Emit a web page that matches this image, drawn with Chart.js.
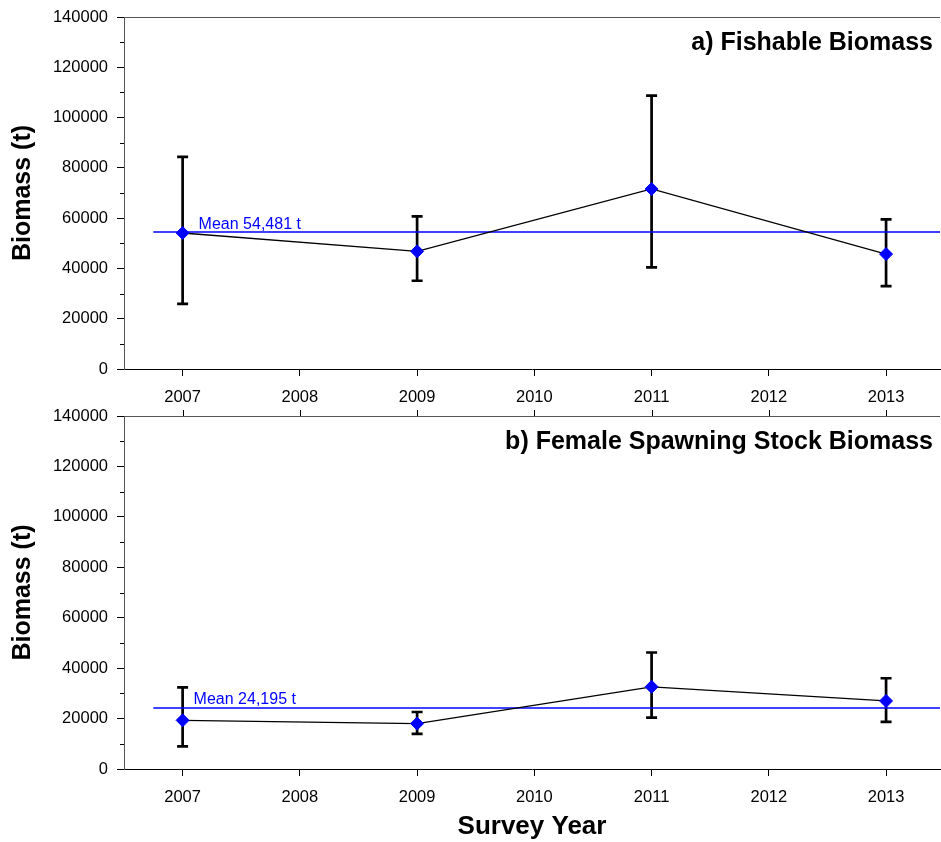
<!DOCTYPE html>
<html>
<head>
<meta charset="utf-8">
<script src="https://cdn.jsdelivr.net/npm/chart.js@4.4.1/dist/chart.umd.min.js"></script>
<style>
    body { margin: 0; background: #fff; }
    canvas { position: absolute; left: 0; }
    #fishableChart { top: 0; }
    #ssbChart { top: 400px; }
</style>
</head>
<body>
<canvas id="fishableChart" width="941" height="410"></canvas>
<canvas id="ssbChart" width="941" height="442"></canvas>
<script>
const surveyYears = [2007, 2009, 2011, 2013];
const yearTicks = [2007, 2008, 2009, 2010, 2011, 2012, 2013];

const fishable = [54100, 46800, 71600, 45700];
const fishableLow = [25900, 35100, 40400, 33000];
const fishableHigh = [84400, 60700, 108700, 59500];
const fishableMean = 54481;

const ssb = [19300, 18000, 32600, 27000];
const ssbLow = [9000, 13900, 20400, 18700];
const ssbHigh = [32400, 22600, 46200, 36000];
const ssbMean = 24195;

const FONT = "'Liberation Sans', Arial, sans-serif";
Chart.defaults.font.family = FONT;
Chart.defaults.color = '#000';

// error bars, minor ticks, mean label, panel title
const panelDecor = {
    id: 'panelDecor',
    beforeDatasetsDraw(chart, args, opts) {
        const { ctx, scales: { x, y } } = chart;
        ctx.save();
        ctx.strokeStyle = '#000';
        ctx.lineWidth = 2.7;
        opts.low.forEach((lo, i) => {
            const px = x.getPixelForValue(opts.years[i]);
            const top = y.getPixelForValue(opts.high[i]);
            const bot = y.getPixelForValue(lo);
            ctx.beginPath();
            ctx.moveTo(px, top);
            ctx.lineTo(px, bot);
            ctx.moveTo(px - 5.5, top);
            ctx.lineTo(px + 5.5, top);
            ctx.moveTo(px - 5.5, bot);
            ctx.lineTo(px + 5.5, bot);
            ctx.stroke();
        });
        ctx.restore();
    },
    afterDraw(chart, args, opts) {
        const { ctx, chartArea, scales: { x, y } } = chart;
        ctx.save();
        // minor y ticks
        ctx.strokeStyle = '#000';
        ctx.lineWidth = 1;
        for (let v = 10000; v < 140000; v += 20000) {
            const py = Math.round(y.getPixelForValue(v)) + 0.5;
            ctx.beginPath();
            ctx.moveTo(chartArea.left - 4, py);
            ctx.lineTo(chartArea.left, py);
            ctx.stroke();
        }
        // top frame
        ctx.strokeStyle = '#555';
        ctx.beginPath();
        ctx.moveTo(chartArea.left, chartArea.top + 0.5);
        ctx.lineTo(chartArea.right, chartArea.top + 0.5);
        ctx.stroke();
        if (opts.topTicks) {
            ctx.strokeStyle = '#000';
            yearTicks.forEach(yr => {
                const px = Math.round(x.getPixelForValue(yr)) + 0.5;
                ctx.beginPath();
                ctx.moveTo(px, chartArea.top - 6);
                ctx.lineTo(px, chartArea.top);
                ctx.stroke();
            });
        }
        // mean label
        ctx.fillStyle = '#0000ff';
        ctx.font = '16px ' + FONT;
        ctx.textAlign = 'left';
        ctx.textBaseline = 'alphabetic';
        ctx.fillText(opts.meanText, x.getPixelForValue(2007) + opts.meanDx, y.getPixelForValue(opts.mean) - 3.5);
        // panel title
        ctx.fillStyle = '#000';
        ctx.font = 'bold 25px ' + FONT;
        ctx.textAlign = 'right';
        ctx.fillText(opts.title, chartArea.right - 7, chartArea.top + opts.titleDy);
        ctx.restore();
    }
};

function makeChart(id, cfg) {
    const ctx = document.getElementById(id);
    return new Chart(ctx, {
        type: 'line',
        data: {
            datasets: [{
                data: surveyYears.map((yr, i) => ({ x: yr, y: cfg.values[i] })),
                borderColor: '#000',
                borderWidth: 1.3,
                pointStyle: 'rectRot',
                pointRadius: 6.5,
                pointBackgroundColor: '#0000ff',
                pointBorderColor: '#0000ff',
                pointBorderWidth: 1
            }, {
                data: [{ x: 2006.75, y: cfg.mean }, { x: 2013.46, y: cfg.mean }],
                borderColor: '#0000ff',
                borderWidth: 1.3,
                pointRadius: 0
            }]
        },
        options: {
            responsive: false,
            devicePixelRatio: 1,
            animation: false,
            layout: {
                autoPadding: false,
                padding: { top: cfg.padTop, right: 1, left: 0, bottom: 0 }
            },
            plugins: {
                legend: { display: false },
                tooltip: { enabled: false },
                panelDecor: {
                    years: surveyYears,
                    low: cfg.low,
                    high: cfg.high,
                    mean: cfg.mean,
                    meanText: cfg.meanText,
                    meanDx: cfg.meanDx,
                    title: cfg.title,
                    titleDy: cfg.titleDy,
                    topTicks: cfg.topTicks
                }
            },
            scales: {
                x: {
                    type: 'linear',
                    min: 2006.5,
                    max: 2013.46,
                    afterBuildTicks: s => { s.ticks = yearTicks.map(v => ({ value: v })); },
                    afterFit: s => {
                        s.height = cfg.xHeight;
                        s.paddingLeft = 0;
                        s.paddingRight = 0;
                    },
                    ticks: {
                        font: { size: 16.5 },
                        padding: 12,
                        maxRotation: 0,
                        callback: v => String(v)
                    },
                    grid: { drawOnChartArea: false, tickLength: 7, tickColor: '#000' },
                    border: { color: '#000', width: 1 },
                    title: {
                        display: cfg.xTitle,
                        text: 'Survey Year',
                        font: { size: 26, weight: 'bold', lineHeight: 1.2 },
                        padding: 0
                    }
                },
                y: {
                    min: 0,
                    max: 140000,
                    afterFit: s => {
                        s.width = 124;
                        s.paddingTop = 0;
                        s.paddingBottom = 0;
                    },
                    ticks: {
                        stepSize: 20000,
                        font: { size: 16.5 },
                        padding: 9,
                        callback: v => String(v)
                    },
                    grid: { drawOnChartArea: false, tickLength: 7, tickColor: '#000' },
                    border: { color: '#555', width: 1 },
                    title: {
                        display: true,
                        text: 'Biomass (t)',
                        font: { size: 25, weight: 'bold', lineHeight: 1.2 },
                        padding: { top: 8, bottom: 0 }
                    }
                }
            }
        },
        plugins: [panelDecor]
    });
}

makeChart('fishableChart', {
    values: fishable, low: fishableLow, high: fishableHigh,
    mean: fishableMean, meanText: 'Mean 54,481 t', meanDx: 16,
    title: 'a) Fishable Biomass', titleDy: 33,
    padTop: 17, xHeight: 41, xTitle: false, topTicks: false
});

makeChart('ssbChart', {
    values: ssb, low: ssbLow, high: ssbHigh,
    mean: ssbMean, meanText: 'Mean 24,195 t', meanDx: 11,
    title: 'b) Female Spawning Stock Biomass', titleDy: 33,
    padTop: 16, xHeight: 73, xTitle: true, topTicks: true
});
</script>
</body>
</html>
